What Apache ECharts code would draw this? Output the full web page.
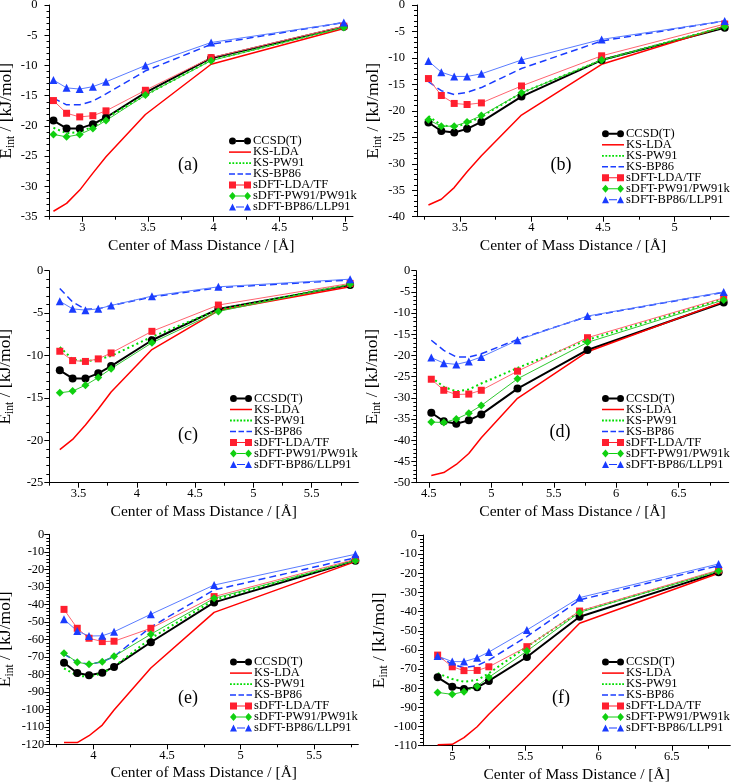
<!DOCTYPE html>
<html><head><meta charset="utf-8">
<script src="https://cdn.jsdelivr.net/npm/echarts@6/dist/echarts.min.js"></script>
<style>html,body{margin:0;padding:0;background:#fff}#c{width:734px;height:783px}</style>
</head><body><div id="c"></div>
<script>
// ---------- DATA ----------
const seriesNames = ['CCSD(T)','KS-LDA','KS-PW91','KS-BP86','sDFT-LDA/TF','sDFT-PW91/PW91k','sDFT-BP86/LLP91'];
const panelLabels = ['(a)','(b)','(c)','(d)','(e)','(f)'];
const xAxisTitle = 'Center of Mass Distance / [Å]';

// panel (a)
const xA = [2.78, 2.88, 2.98, 3.08, 3.18, 3.48, 3.98, 4.99];
const ccsdA = [-19.1, -20.4, -20.4, -19.7, -18.6, -14.5, -8.8, -3.6];
const ksLdaA = [-34.1, -32.8, -30.6, -27.8, -25.1, -18.1, -9.8, -3.9];
const ksPw91A = [-20.3, -21.2, -21.0, -20.1, -18.7, -14.9, -9.1, -3.7];
const ksBp86A = [-15.4, -16.5, -16.5, -15.9, -14.7, -10.9, -6.5, -2.9];
const sdftLdaA = [-15.8, -17.9, -18.5, -18.3, -17.5, -14.1, -8.7, -3.5];
const sdftPw91A = [-21.4, -21.8, -21.4, -20.4, -19.1, -14.9, -9.2, -3.7];
const sdftBp86A = [-12.4, -13.7, -13.9, -13.5, -12.7, -10.0, -6.2, -2.9];
const xTicksA = [3, 3.5, 4, 4.5, 5];
const xMinorA = [2.75, 3.25, 3.75, 4.25, 4.75];

// panel (b)
const xB = [3.28, 3.37, 3.46, 3.55, 3.65, 3.93, 4.49, 5.35];
const ccsdB = [-22.2, -23.8, -24.1, -23.4, -22.1, -17.3, -10.4, -4.3];
const ksLdaB = [-37.8, -36.7, -34.5, -31.5, -28.5, -20.8, -11.2, -4.0];
const ksPw91B = [-21.0, -22.7, -23.0, -22.4, -21.1, -16.6, -10.4, -4.1];
const ksBp86B = [-14.5, -16.2, -16.9, -16.5, -15.6, -12.0, -6.8, -3.0];
const sdftLdaB = [-13.9, -17.1, -18.6, -18.8, -18.5, -15.3, -9.6, -3.6];
const sdftPw91B = [-21.7, -22.9, -22.9, -22.1, -20.9, -16.6, -10.4, -4.1];
const sdftBp86B = [-10.6, -12.7, -13.5, -13.5, -13.0, -10.4, -6.5, -3.0];
const xTicksB = [3.5, 4, 4.5, 5];
const xMinorB = [3.25, 3.75, 4.25, 4.75, 5.25];

// panel (c)
const xC = [3.34, 3.45, 3.56, 3.67, 3.78, 4.13, 4.70, 5.83];
const ccsdC = [-11.75, -12.7, -12.7, -12.1, -11.25, -8.2, -4.5, -1.7];
const ksLdaC = [-21.1, -19.9, -18.2, -16.3, -14.3, -9.3, -4.7, -1.9];
const ksPw91C = [-9.0, -10.45, -10.7, -10.45, -10.05, -7.8, -4.6, -1.6];
const ksBp86C = [-2.1, -3.7, -4.55, -4.5, -4.1, -3.1, -2.0, -1.1];
const sdftLdaC = [-9.5, -10.6, -10.7, -10.4, -9.7, -7.15, -4.05, -1.5];
const sdftPw91C = [-14.4, -14.2, -13.5, -12.6, -11.55, -8.5, -4.8, -1.6];
const sdftBp86C = [-3.6, -4.5, -4.65, -4.5, -4.1, -3.0, -1.9, -1.0];
const xTicksC = [3.5, 4, 4.5, 5, 5.5];
const xMinorC = [3.25, 3.75, 4.25, 4.75, 5.25, 5.75];

// panel (d)
const xD = [4.52, 4.62, 4.72, 4.82, 4.92, 5.21, 5.77, 6.86];
const ccsdD = [-33.5, -35.5, -36.1, -35.3, -33.9, -27.8, -18.7, -7.5];
const ksLdaD = [-48.3, -47.6, -45.7, -43.1, -39.4, -30.1, -19.1, -7.3];
const ksPw91D = [-25.1, -27.4, -28.45, -28.0, -26.6, -22.95, -16.3, -6.6];
const ksBp86D = [-16.4, -18.8, -20.35, -20.35, -19.6, -16.2, -10.8, -5.1];
const sdftLdaD = [-25.6, -28.2, -29.2, -29.1, -28.2, -23.7, -15.8, -6.4];
const sdftPw91D = [-35.7, -35.8, -35.0, -33.6, -31.8, -25.5, -16.9, -6.9];
const sdftBp86D = [-20.5, -21.8, -22.1, -21.4, -20.35, -16.4, -10.7, -5.0];
const xTicksD = [4.5, 5, 5.5, 6, 6.5];
const xMinorD = [4.75, 5.25, 5.75, 6.25, 6.75];

// panel (e)
const xE = [3.80, 3.89, 3.97, 4.06, 4.14, 4.39, 4.82, 5.78];
const ccsdE = [-73.4, -79.3, -80.6, -79.1, -75.8, -61.7, -38.9, -15.1];
const ksLdaE = [-119.0, -119.0, -115.1, -109.0, -100.4, -76.4, -44.6, -15.6];
const ksPw91E = [-76.6, -80.8, -81.4, -79.4, -75.6, -59.5, -37.5, -14.8];
const ksBp86E = [-68.4, -73.1, -74.3, -72.8, -69.9, -53.0, -31.8, -13.4];
const sdftLdaE = [-42.9, -53.7, -59.4, -61.3, -61.1, -53.7, -35.6, -14.3];
const sdftPw91E = [-68.0, -73.1, -74.3, -72.8, -69.7, -57.1, -36.6, -15.1];
const sdftBp86E = [-48.6, -55.3, -58.1, -58.0, -55.7, -45.7, -29.0, -11.4];
const xTicksE = [4, 4.5, 5, 5.5];
const xMinorE = [3.75, 4.25, 4.75, 5.25, 5.75];

// panel (f)
const xF = [4.90, 5.00, 5.08, 5.17, 5.25, 5.51, 5.87, 6.82];
const ccsdF = [-74.3, -79.2, -80.4, -79.5, -76.2, -63.7, -42.7, -19.5];
const ksLdaF = [-109.5, -109.3, -105.8, -100.1, -93.6, -74.0, -46.1, -20.0];
const ksPw91F = [-72.2, -75.2, -76.6, -75.7, -72.2, -58.3, -40.0, -18.8];
const ksBp86F = [-63.2, -67.5, -69.3, -68.2, -65.3, -53.0, -33.9, -16.0];
const sdftLdaF = [-62.7, -68.8, -70.8, -70.7, -68.8, -58.3, -39.7, -18.3];
const sdftPw91F = [-82.2, -83.2, -81.8, -78.9, -74.3, -60.6, -40.4, -18.8];
const sdftBp86F = [-63.2, -66.1, -66.1, -64.1, -61.1, -49.6, -32.7, -15.1];
const xTicksF = [5, 5.5, 6, 6.5];
const xMinorF = [4.75, 5.25, 5.75, 6.25, 6.75];

const panels = [
  {x: xA, ys: [ccsdA, ksLdaA, ksPw91A, ksBp86A, sdftLdaA, sdftPw91A, sdftBp86A], ticks: xTicksA, minors: xMinorA},
  {x: xB, ys: [ccsdB, ksLdaB, ksPw91B, ksBp86B, sdftLdaB, sdftPw91B, sdftBp86B], ticks: xTicksB, minors: xMinorB},
  {x: xC, ys: [ccsdC, ksLdaC, ksPw91C, ksBp86C, sdftLdaC, sdftPw91C, sdftBp86C], ticks: xTicksC, minors: xMinorC},
  {x: xD, ys: [ccsdD, ksLdaD, ksPw91D, ksBp86D, sdftLdaD, sdftPw91D, sdftBp86D], ticks: xTicksD, minors: xMinorD},
  {x: xE, ys: [ccsdE, ksLdaE, ksPw91E, ksBp86E, sdftLdaE, sdftPw91E, sdftBp86E], ticks: xTicksE, minors: xMinorE},
  {x: xF, ys: [ccsdF, ksLdaF, ksPw91F, ksBp86F, sdftLdaF, sdftPw91F, sdftBp86F], ticks: xTicksF, minors: xMinorF}
];

// ---------- LAYOUT / STYLE ----------
const layout = [
  {left: 49.5, top: 5, width: 303.5, height: 211.7, xMin: 2.75, xMax: 5.06, yMin: -35, yInt: 5, yMargin: 12, lgLeft: 229, lgTop: 134.6, lab: [188, 165]},
  {left: 417, top: 5, width: 312, height: 211.7, xMin: 3.2, xMax: 5.38, yMin: -40, yInt: 5, yMargin: 12, lgLeft: 602, lgTop: 127.3, lab: [561, 165]},
  {left: 49.3, top: 270.7, width: 309, height: 212, xMin: 3.25, xMax: 5.9, yMin: -25, yInt: 5, yMargin: 6, lgLeft: 230, lgTop: 392, lab: [188, 435]},
  {left: 416.3, top: 270.7, width: 312.4, height: 212, xMin: 4.4, xMax: 6.9, yMin: -50, yInt: 5, yMargin: 6, lgLeft: 602, lgTop: 392, lab: [560, 432]},
  {left: 49.3, top: 534.3, width: 309, height: 210, xMin: 3.7, xMax: 5.8, yMin: -120, yInt: 10, yMargin: 5, lgLeft: 230, lgTop: 655.6, lab: [188, 698]},
  {left: 423, top: 535, width: 307.3, height: 210.7, xMin: 4.8, xMax: 6.9, yMin: -110, yInt: 10, yMargin: 6, lgLeft: 602, lgTop: 655.6, lab: [561, 698]}
];

const FONT = '"Liberation Serif", "DejaVu Serif", serif';
const styles = [
  {color: '#000000', line: '#000000', width: 2, type: 'solid', symbol: 'circle', size: 8},
  {color: '#ff0000', line: '#ff0000', width: 1.5, type: 'solid', symbol: 'none', size: 0},
  {color: '#00dd00', line: '#00dd00', width: 2, type: [2, 3], symbol: 'none', size: 0},
  {color: '#1a3cff', line: '#1a3cff', width: 1.5, type: [7, 4], symbol: 'none', size: 0},
  {color: '#ff1f2f', line: '#ff6470', width: 1, type: 'solid', symbol: 'rect', size: 7},
  {color: '#10d010', line: '#30c830', width: 1, type: 'solid', symbol: 'diamond', size: 8},
  {color: '#1a3cff', line: '#5a7cff', width: 1, type: 'solid', symbol: 'triangle', size: 8}
];
const legendIcons = [
  'path://M0,4a3.5,3.5 0 1,0 7,0a3.5,3.5 0 1,0 -7,0z M15,4a3.5,3.5 0 1,0 7,0a3.5,3.5 0 1,0 -7,0z M7,3h8v2h-8z',
  'path://M0,3.25h22v1.5h-22z',
  'path://M0,3.1h1.8v1.8h-1.8z M3.4,3.1h1.8v1.8h-1.8z M6.8,3.1h1.8v1.8h-1.8z M10.2,3.1h1.8v1.8h-1.8z M13.6,3.1h1.8v1.8h-1.8z M17,3.1h1.8v1.8h-1.8z M20.2,3.1h1.8v1.8h-1.8z',
  'path://M0,3.25h6v1.5h-6z M8.5,3.25h5.5v1.5h-5.5z M16.5,3.25h5.5v1.5h-5.5z',
  'path://M0,0.5h7v7h-7z M15,0.5h7v7h-7z M7,3.5h8v1h-8z',
  'path://M3.5,0l3.5,4l-3.5,4l-3.5,-4z M18.5,0l3.5,4l-3.5,4l-3.5,-4z M7,3.5h8v1h-8z',
  'path://M3.5,0.5l3.5,7h-7z M18.5,0.5l3.5,7h-7z M7,3.5h8v1h-8z'
];

const grid = [], xAxis = [], yAxis = [], series = [], legend = [], graphic = [];
layout.forEach((L, i) => {
  const P = panels[i];
  grid.push({left: L.left, top: L.top, width: L.width, height: L.height, containLabel: false, outerBoundsMode: 'none'});
  xAxis.push({
    type: 'value', gridIndex: i, min: L.xMin, max: L.xMax, position: 'bottom',
    axisLine: {show: true, onZero: false, lineStyle: {color: '#000', width: 1}},
    axisTick: {show: true, customValues: P.ticks, length: 5, lineStyle: {color: '#000'}},
    axisLabel: {customValues: P.ticks, margin: 5, fontFamily: FONT, fontSize: 12.5, color: '#000'},
    splitLine: {show: false}, minorTick: {show: false},
    name: xAxisTitle, nameLocation: 'middle', nameGap: 21,
    nameTextStyle: {fontFamily: FONT, fontSize: 15.5, color: '#000'}
  });
  xAxis.push({
    type: 'value', gridIndex: i, min: L.xMin, max: L.xMax, position: 'bottom',
    axisLine: {show: false, onZero: false},
    axisTick: {show: true, customValues: P.minors, length: 3, lineStyle: {color: '#000'}},
    axisLabel: {show: false}, splitLine: {show: false}
  });
  yAxis.push({
    type: 'value', gridIndex: i, min: L.yMin, max: 0, interval: L.yInt,
    axisLine: {show: true, onZero: false, lineStyle: {color: '#000', width: 1}},
    axisTick: {show: true, length: 5, lineStyle: {color: '#000'}},
    minorTick: {show: true, splitNumber: 5, length: 3, lineStyle: {color: '#000'}},
    axisLabel: {margin: L.yMargin, fontFamily: FONT, fontSize: 12.5, color: '#000'},
    splitLine: {show: false}, minorSplitLine: {show: false},
    name: '{m|E}{s|int}{m| / [kJ/mol]}', nameLocation: 'middle', nameGap: 33,
    nameTextStyle: {fontFamily: FONT, color: '#000', rich: {
      m: {fontFamily: FONT, fontSize: 17.5, lineHeight: 21, verticalAlign: 'middle', color: '#000'},
      s: {fontFamily: FONT, fontSize: 11.5, lineHeight: 11.5, verticalAlign: 'bottom', color: '#000'}
    }}
  });
  styles.forEach((S, k) => {
    series.push({
      type: 'line', name: seriesNames[k], xAxisIndex: 2 * i, yAxisIndex: i,
      data: P.x.map((xv, j) => [xv, P.ys[k][j]]),
      symbol: S.symbol, symbolSize: S.size, showSymbol: S.symbol !== 'none',
      lineStyle: {color: S.line, width: S.width, type: S.type},
      itemStyle: {color: S.color, borderWidth: 0},
      emphasis: {disabled: true}, animation: false, silent: true
    });
  });
  legend.push({
    left: L.lgLeft, top: L.lgTop, orient: 'vertical', padding: 0, itemGap: -2,
    itemWidth: 22, itemHeight: 8, selectedMode: false, symbolKeepAspect: true,
    itemStyle: {borderWidth: 0},
    data: seriesNames.map((n, k) => ({name: n, icon: legendIcons[k]})),
    textStyle: {fontFamily: FONT, fontSize: 12.5, color: '#000', padding: [0, 0, 0, -3]}
  });
  graphic.push({
    type: 'text', x: L.lab[0], y: L.lab[1],
    style: {text: panelLabels[i], font: '18px "Liberation Serif"', fill: '#000',
      textAlign: 'center', textVerticalAlign: 'middle', align: 'center', verticalAlign: 'middle'}
  });
});

const chart = echarts.init(document.getElementById('c'), null, {renderer: 'canvas'});
chart.setOption({backgroundColor: '#fff', animation: false, grid, xAxis, yAxis, series, legend, graphic});
</script></body></html>
